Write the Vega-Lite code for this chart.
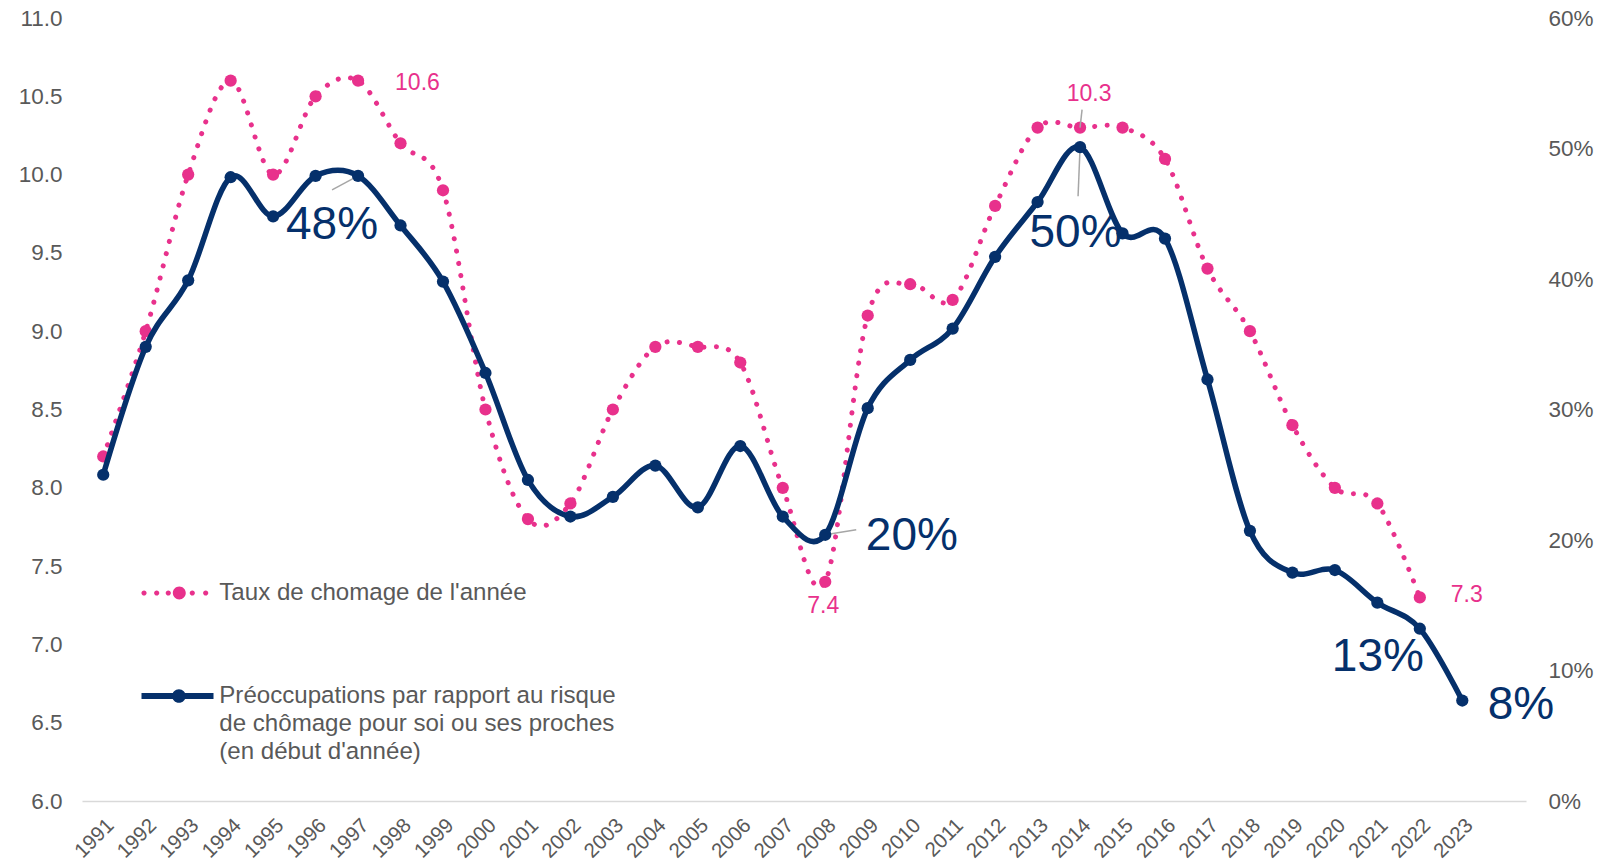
{
  "$schema": "https://vega.github.io/schema/vega-lite/v6.json",
  "width": 1444,
  "height": 783,
  "autosize": {"type": "none"},
  "padding": {"left": 82, "top": 18, "right": 76, "bottom": 67},
  "background": "white",
  "config": {
    "view": {"stroke": null},
    "font": "Liberation Sans",
    "text": {"font": "Liberation Sans"}
  },
  "datasets": {
    "taux": [
      {"year": 1991, "serie": "Taux de chomage de l'année", "value": 8.2},
      {"year": 1992, "serie": "Taux de chomage de l'année", "value": 9.0},
      {"year": 1993, "serie": "Taux de chomage de l'année", "value": 10.0},
      {"year": 1994, "serie": "Taux de chomage de l'année", "value": 10.6},
      {"year": 1995, "serie": "Taux de chomage de l'année", "value": 10.0},
      {"year": 1996, "serie": "Taux de chomage de l'année", "value": 10.5},
      {"year": 1997, "serie": "Taux de chomage de l'année", "value": 10.6},
      {"year": 1998, "serie": "Taux de chomage de l'année", "value": 10.2},
      {"year": 1999, "serie": "Taux de chomage de l'année", "value": 9.9},
      {"year": 2000, "serie": "Taux de chomage de l'année", "value": 8.5},
      {"year": 2001, "serie": "Taux de chomage de l'année", "value": 7.8},
      {"year": 2002, "serie": "Taux de chomage de l'année", "value": 7.9},
      {"year": 2003, "serie": "Taux de chomage de l'année", "value": 8.5},
      {"year": 2004, "serie": "Taux de chomage de l'année", "value": 8.9},
      {"year": 2005, "serie": "Taux de chomage de l'année", "value": 8.9},
      {"year": 2006, "serie": "Taux de chomage de l'année", "value": 8.8},
      {"year": 2007, "serie": "Taux de chomage de l'année", "value": 8.0},
      {"year": 2008, "serie": "Taux de chomage de l'année", "value": 7.4},
      {"year": 2009, "serie": "Taux de chomage de l'année", "value": 9.1},
      {"year": 2010, "serie": "Taux de chomage de l'année", "value": 9.3},
      {"year": 2011, "serie": "Taux de chomage de l'année", "value": 9.2},
      {"year": 2012, "serie": "Taux de chomage de l'année", "value": 9.8},
      {"year": 2013, "serie": "Taux de chomage de l'année", "value": 10.3},
      {"year": 2014, "serie": "Taux de chomage de l'année", "value": 10.3},
      {"year": 2015, "serie": "Taux de chomage de l'année", "value": 10.3},
      {"year": 2016, "serie": "Taux de chomage de l'année", "value": 10.1},
      {"year": 2017, "serie": "Taux de chomage de l'année", "value": 9.4},
      {"year": 2018, "serie": "Taux de chomage de l'année", "value": 9.0},
      {"year": 2019, "serie": "Taux de chomage de l'année", "value": 8.4},
      {"year": 2020, "serie": "Taux de chomage de l'année", "value": 8.0},
      {"year": 2021, "serie": "Taux de chomage de l'année", "value": 7.9},
      {"year": 2022, "serie": "Taux de chomage de l'année", "value": 7.3}
    ],
    "preo": [
      {"year": 1991, "serie": "Préoccupations par rapport au risque de chômage pour soi ou ses proches (en début d'année)", "value": 0.250},
      {"year": 1992, "serie": "Préoccupations par rapport au risque de chômage pour soi ou ses proches (en début d'année)", "value": 0.348},
      {"year": 1993, "serie": "Préoccupations par rapport au risque de chômage pour soi ou ses proches (en début d'année)", "value": 0.399},
      {"year": 1994, "serie": "Préoccupations par rapport au risque de chômage pour soi ou ses proches (en début d'année)", "value": 0.478},
      {"year": 1995, "serie": "Préoccupations par rapport au risque de chômage pour soi ou ses proches (en début d'année)", "value": 0.448},
      {"year": 1996, "serie": "Préoccupations par rapport au risque de chômage pour soi ou ses proches (en début d'année)", "value": 0.479},
      {"year": 1997, "serie": "Préoccupations par rapport au risque de chômage pour soi ou ses proches (en début d'année)", "value": 0.479},
      {"year": 1998, "serie": "Préoccupations par rapport au risque de chômage pour soi ou ses proches (en début d'année)", "value": 0.441},
      {"year": 1999, "serie": "Préoccupations par rapport au risque de chômage pour soi ou ses proches (en début d'année)", "value": 0.398},
      {"year": 2000, "serie": "Préoccupations par rapport au risque de chômage pour soi ou ses proches (en début d'année)", "value": 0.328},
      {"year": 2001, "serie": "Préoccupations par rapport au risque de chômage pour soi ou ses proches (en début d'année)", "value": 0.246},
      {"year": 2002, "serie": "Préoccupations par rapport au risque de chômage pour soi ou ses proches (en début d'année)", "value": 0.218},
      {"year": 2003, "serie": "Préoccupations par rapport au risque de chômage pour soi ou ses proches (en début d'année)", "value": 0.233},
      {"year": 2004, "serie": "Préoccupations par rapport au risque de chômage pour soi ou ses proches (en début d'année)", "value": 0.257},
      {"year": 2005, "serie": "Préoccupations par rapport au risque de chômage pour soi ou ses proches (en début d'année)", "value": 0.225},
      {"year": 2006, "serie": "Préoccupations par rapport au risque de chômage pour soi ou ses proches (en début d'année)", "value": 0.272},
      {"year": 2007, "serie": "Préoccupations par rapport au risque de chômage pour soi ou ses proches (en début d'année)", "value": 0.218},
      {"year": 2008, "serie": "Préoccupations par rapport au risque de chômage pour soi ou ses proches (en début d'année)", "value": 0.204},
      {"year": 2009, "serie": "Préoccupations par rapport au risque de chômage pour soi ou ses proches (en début d'année)", "value": 0.301},
      {"year": 2010, "serie": "Préoccupations par rapport au risque de chômage pour soi ou ses proches (en début d'année)", "value": 0.338},
      {"year": 2011, "serie": "Préoccupations par rapport au risque de chômage pour soi ou ses proches (en début d'année)", "value": 0.362},
      {"year": 2012, "serie": "Préoccupations par rapport au risque de chômage pour soi ou ses proches (en début d'année)", "value": 0.417},
      {"year": 2013, "serie": "Préoccupations par rapport au risque de chômage pour soi ou ses proches (en début d'année)", "value": 0.459},
      {"year": 2014, "serie": "Préoccupations par rapport au risque de chômage pour soi ou ses proches (en début d'année)", "value": 0.501},
      {"year": 2015, "serie": "Préoccupations par rapport au risque de chômage pour soi ou ses proches (en début d'année)", "value": 0.435},
      {"year": 2016, "serie": "Préoccupations par rapport au risque de chômage pour soi ou ses proches (en début d'année)", "value": 0.431},
      {"year": 2017, "serie": "Préoccupations par rapport au risque de chômage pour soi ou ses proches (en début d'année)", "value": 0.323},
      {"year": 2018, "serie": "Préoccupations par rapport au risque de chômage pour soi ou ses proches (en début d'année)", "value": 0.207},
      {"year": 2019, "serie": "Préoccupations par rapport au risque de chômage pour soi ou ses proches (en début d'année)", "value": 0.175},
      {"year": 2020, "serie": "Préoccupations par rapport au risque de chômage pour soi ou ses proches (en début d'année)", "value": 0.177},
      {"year": 2021, "serie": "Préoccupations par rapport au risque de chômage pour soi ou ses proches (en début d'année)", "value": 0.152},
      {"year": 2022, "serie": "Préoccupations par rapport au risque de chômage pour soi ou ses proches (en début d'année)", "value": 0.132},
      {"year": 2023, "serie": "Préoccupations par rapport au risque de chômage pour soi ou ses proches (en début d'année)", "value": 0.077}
    ]
  },
  "encoding": {
    "x": {
      "field": "year",
      "type": "quantitative",
      "scale": {"domain": [1990.5, 2024.5], "nice": false, "zero": false},
      "axis": {
        "title": null,
        "values": [1991, 1992, 1993, 1994, 1995, 1996, 1997, 1998, 1999, 2000, 2001, 2002, 2003, 2004, 2005, 2006, 2007, 2008, 2009, 2010, 2011, 2012, 2013, 2014, 2015, 2016, 2017, 2018, 2019, 2020, 2021, 2022, 2023],
        "format": "d",
        "labelAngle": -45,
        "labelAlign": "right",
        "labelBaseline": "middle",
        "ticks": false,
        "grid": false,
        "domainColor": "#D9D9D9",
        "domainWidth": 1.5,
        "labelFont": "Liberation Sans",
        "labelFontSize": 20.5,
        "labelColor": "#595959",
        "labelPadding": 21,
        "labelOffset": 7,
        "labelOverlap": false,
        "labelFlush": false,
        "labelBound": false
      }
    }
  },
  "resolve": {"scale": {"y": "independent"}},
  "layer": [
    {
      "data": {"name": "taux"},
      "encoding": {
        "y": {
          "field": "value",
          "type": "quantitative",
          "scale": {"domain": [6, 11], "nice": false, "zero": false},
          "axis": {
            "orient": "left",
            "title": null,
            "values": [6, 6.5, 7, 7.5, 8, 8.5, 9, 9.5, 10, 10.5, 11],
            "format": ".1f",
            "domain": false,
            "ticks": false,
            "grid": false,
            "labelFont": "Liberation Sans",
            "labelFontSize": 22.5,
            "labelColor": "#595959",
            "labelPadding": 20
          }
        }
      },
      "layer": [
        {
          "mark": {"type": "line", "interpolate": "cardinal", "strokeWidth": 5, "strokeDash": [0.1, 12.4], "strokeCap": "round"},
          "encoding": {
            "color": {
              "field": "serie",
              "type": "nominal",
              "scale": {
                "domain": ["Taux de chomage de l'année", "Préoccupations par rapport au risque de chômage pour soi ou ses proches (en début d'année)"],
                "range": ["#E8318C", "#05306B"]
              },
              "legend": {
                "title": null,
                "orient": "none",
                "legendX": 59.5,
                "legendY": 539,
                "direction": "vertical",
                "padding": 0,
                "symbolSize": 5184,
                "symbolStrokeWidth": 0,
                "symbolType": "M-1,0L1,0",
                "labelFont": "Liberation Sans",
                "labelFontSize": 24.1,
                "labelColor": "#595959",
                "labelLimit": 1000,
                "labelOffset": 5.8,
                "rowPadding": 54,
                "labelExpr": "indexof(datum.label, 'Préoc') === 0 ? [\"Préoccupations par rapport au risque\", \"de chômage pour soi ou ses proches\", \"(en début d'année)\"] : datum.label",
                "encode": {
                  "symbols": {
                    "update": {
                      "shape": [
                        {"test": "datum.index === 0", "value": "M-1.002,0A0.072,0.072,0,1,1,-0.858,0A0.072,0.072,0,1,1,-1.002,0ZM-0.65,0A0.072,0.072,0,1,1,-0.506,0A0.072,0.072,0,1,1,-0.65,0ZM-0.328,0A0.072,0.072,0,1,1,-0.184,0A0.072,0.072,0,1,1,-0.328,0ZM-0.13,0A0.18,0.18,0,1,1,0.23,0A0.18,0.18,0,1,1,-0.13,0ZM0.339,0A0.072,0.072,0,1,1,0.483,0A0.072,0.072,0,1,1,0.339,0ZM0.711,0A0.072,0.072,0,1,1,0.855,0A0.072,0.072,0,1,1,0.711,0Z"},
                        {"value": "M-1,-0.083L-0.05,-0.083L-0.05,0.083L-1,0.083ZM0.13,-0.083L1,-0.083L1,0.083L0.13,0.083ZM-0.15,0A0.19,0.19,0,1,1,0.23,0A0.19,0.19,0,1,1,-0.15,0Z"}
                      ],
                      "fill": [
                        {"test": "datum.index === 0", "value": "#E8318C"},
                        {"value": "#05306B"}
                      ],
                      "stroke": {"value": "transparent"},
                      "strokeDash": {"value": []},
                      "opacity": {"value": 1}
                    }
                  },
                  "labels": {
                    "update": {
                      "lineHeight": {"value": 28}
                    }
                  }
                }
              }
            }
          }
        },
        {
          "mark": {"type": "point", "filled": true, "size": 150, "color": "#E8318C", "opacity": 1}
        },
        {
          "transform": [{"filter": "datum.year === 2014"}],
          "mark": {"type": "rule", "color": "#A6A6A6", "strokeWidth": 1.5, "x2Offset": 2, "y2Offset": -18},
          "encoding": {"x2": {"field": "year"}, "y2": {"field": "value"}}
        },
        {
          "transform": [{"filter": "datum.year === 1997"}],
          "mark": {"type": "text", "align": "left", "baseline": "alphabetic", "dx": 37, "dy": 9, "fontSize": 23, "color": "#E8318C", "font": "Liberation Sans"},
          "encoding": {"text": {"field": "value", "type": "quantitative", "format": ".1f"}}
        },
        {
          "transform": [{"filter": "datum.year === 2014"}],
          "mark": {"type": "text", "align": "center", "baseline": "alphabetic", "dx": 9, "dy": -27, "fontSize": 23, "color": "#E8318C", "font": "Liberation Sans"},
          "encoding": {"text": {"field": "value", "type": "quantitative", "format": ".1f"}}
        },
        {
          "transform": [{"filter": "datum.year === 2008"}],
          "mark": {"type": "text", "align": "center", "baseline": "alphabetic", "dx": -2, "dy": 31, "fontSize": 23, "color": "#E8318C", "font": "Liberation Sans"},
          "encoding": {"text": {"field": "value", "type": "quantitative", "format": ".1f"}}
        },
        {
          "transform": [{"filter": "datum.year === 2022"}],
          "mark": {"type": "text", "align": "left", "baseline": "alphabetic", "dx": 31, "dy": 5, "fontSize": 23, "color": "#E8318C", "font": "Liberation Sans"},
          "encoding": {"text": {"field": "value", "type": "quantitative", "format": ".1f"}}
        }
      ]
    },
    {
      "data": {"name": "preo"},
      "encoding": {
        "y": {
          "field": "value",
          "type": "quantitative",
          "scale": {"domain": [0, 0.6], "nice": false, "zero": false},
          "axis": {
            "orient": "right",
            "title": null,
            "values": [0, 0.1, 0.2, 0.3, 0.4, 0.5, 0.6],
            "format": ".0%",
            "domain": false,
            "ticks": false,
            "grid": false,
            "labelFont": "Liberation Sans",
            "labelFontSize": 22.5,
            "labelColor": "#595959",
            "labelPadding": 22
          }
        }
      },
      "layer": [
        {
          "transform": [{"filter": "datum.year === 1997"}],
          "mark": {"type": "rule", "color": "#A6A6A6", "strokeWidth": 1.5, "x2Offset": -26, "y2Offset": 14},
          "encoding": {"x2": {"field": "year"}, "y2": {"field": "value"}}
        },
        {
          "transform": [{"filter": "datum.year === 2014"}],
          "mark": {"type": "rule", "color": "#A6A6A6", "strokeWidth": 1.5, "x2Offset": -2, "y2Offset": 49},
          "encoding": {"x2": {"field": "year"}, "y2": {"field": "value"}}
        },
        {
          "transform": [{"filter": "datum.year === 2008"}],
          "mark": {"type": "rule", "color": "#A6A6A6", "strokeWidth": 1.5, "x2Offset": 31, "y2Offset": -5},
          "encoding": {"x2": {"field": "year"}, "y2": {"field": "value"}}
        },
        {
          "mark": {"type": "line", "interpolate": "cardinal", "strokeWidth": 5.5, "strokeCap": "round", "strokeJoin": "round"},
          "encoding": {
            "color": {
              "field": "serie",
              "type": "nominal",
              "scale": {
                "domain": ["Taux de chomage de l'année", "Préoccupations par rapport au risque de chômage pour soi ou ses proches (en début d'année)"],
                "range": ["#E8318C", "#05306B"]
              }
            }
          }
        },
        {
          "mark": {"type": "point", "filled": true, "size": 150, "color": "#05306B", "opacity": 1}
        },
        {
          "transform": [{"filter": "datum.year === 1997"}],
          "mark": {"type": "text", "align": "center", "baseline": "alphabetic", "dx": -26, "dy": 63, "fontSize": 46, "color": "#05306B", "font": "Liberation Sans"},
          "encoding": {"text": {"field": "value", "type": "quantitative", "format": ".0%"}}
        },
        {
          "transform": [{"filter": "datum.year === 2014"}],
          "mark": {"type": "text", "align": "center", "baseline": "alphabetic", "dx": -4.5, "dy": 99.5, "fontSize": 46, "color": "#05306B", "font": "Liberation Sans"},
          "encoding": {"text": {"field": "value", "type": "quantitative", "format": ".0%"}}
        },
        {
          "transform": [{"filter": "datum.year === 2008"}],
          "mark": {"type": "text", "align": "left", "baseline": "alphabetic", "dx": 40.6, "dy": 15.3, "fontSize": 46, "color": "#05306B", "font": "Liberation Sans"},
          "encoding": {"text": {"field": "value", "type": "quantitative", "format": ".0%"}}
        },
        {
          "transform": [{"filter": "datum.year === 2022"}],
          "mark": {"type": "text", "align": "center", "baseline": "alphabetic", "dx": -42, "dy": 42.7, "fontSize": 46, "color": "#05306B", "font": "Liberation Sans"},
          "encoding": {"text": {"field": "value", "type": "quantitative", "format": ".0%"}}
        },
        {
          "transform": [{"filter": "datum.year === 2023"}],
          "mark": {"type": "text", "align": "left", "baseline": "alphabetic", "dx": 25.4, "dy": 18.3, "fontSize": 46, "color": "#05306B", "font": "Liberation Sans"},
          "encoding": {"text": {"field": "value", "type": "quantitative", "format": ".0%"}}
        }
      ]
    }
  ]
}
